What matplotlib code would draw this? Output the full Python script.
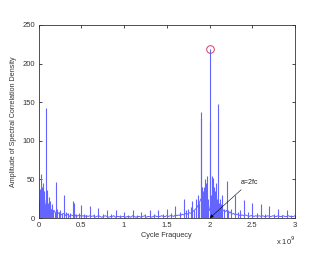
import numpy as np
import matplotlib
matplotlib.use("Agg")
import matplotlib.pyplot as plt

plt.rcParams['font.family'] = ['Liberation Sans', 'DejaVu Sans']

# Baseline noise (frequency in units of 1e9 Hz, step 0.02)
base_freq = np.round(np.arange(0, 3.0001, 0.02), 3)
base_amp = [10, 25, 20, 35, 15, 18, 14, 12, 8, 10, 6, 5, 7, 4, 5, 6,
            3, 5, 2, 4, 3, 5, 2, 3, 4, 2, 3, 2, 3, 2, 3,
            2, 3, 1, 2, 3, 2, 1, 2, 3, 2, 1, 2, 2, 3, 1, 2, 2, 1, 2, 2,
            1, 2, 2, 1, 3, 2, 1, 2, 2, 1, 2, 3, 1, 2, 2, 1, 2, 3, 2, 2,
            2, 3, 2, 2, 3, 2, 3, 3, 2, 4, 3, 4, 3, 5, 4, 6, 5, 7, 6, 8,
            10, 12, 15, 20, 25, 18, 22, 15, 20, 10, 8, 6, 12, 20, 18, 15, 12, 10, 8, 10,
            6, 8, 5, 6, 4, 5, 4, 3, 4, 3, 4, 3, 2, 3, 3, 2, 3, 2, 3, 2,
            3, 2, 2, 3, 2, 2, 3, 2, 2, 3, 2, 2, 3, 2, 2, 3, 2, 2, 2, 3]

# Spikes (frequency in units of 1e9 Hz, amplitude)
spike_freq = [0.005, 0.012, 0.02, 0.03, 0.038, 0.045, 0.052, 0.06, 0.068, 0.08, 0.091, 0.1,
              0.11, 0.12, 0.13, 0.14, 0.15, 0.16, 0.175, 0.19, 0.2, 0.21, 0.22, 0.24, 0.25,
              0.27, 0.3, 0.32, 0.35, 0.37, 0.4, 0.41, 0.44, 0.47, 0.5, 0.53, 0.55, 0.6, 0.65,
              0.7, 0.75, 0.8, 0.85, 0.9, 0.95, 1.0, 1.05, 1.1, 1.15, 1.2, 1.25, 1.3, 1.35,
              1.4, 1.45, 1.5, 1.55, 1.6, 1.65, 1.7, 1.72, 1.75, 1.78, 1.8, 1.82, 1.84, 1.86,
              1.87, 1.88, 1.895, 1.905, 1.915, 1.925, 1.935, 1.945, 1.955, 1.965, 1.975,
              1.985, 2.0, 2.01, 2.02, 2.03, 2.04, 2.05, 2.06, 2.07, 2.08, 2.09, 2.1, 2.11,
              2.12, 2.13, 2.15, 2.17, 2.2, 2.22, 2.25, 2.3, 2.33, 2.35, 2.4, 2.45, 2.5, 2.55,
              2.6, 2.65, 2.7, 2.75, 2.8, 2.85, 2.9, 2.95, 2.995]
spike_amp = [22, 10, 37, 57, 30, 40, 46, 25, 35, 18, 143, 36,
             20, 27, 15, 22, 12, 18, 10, 8, 47, 10, 12, 8, 10,
             6, 30, 8, 7, 6, 22, 20, 5, 6, 17, 5, 4, 15, 5,
             13, 5, 11, 5, 10, 4, 8, 4, 10, 4, 8, 5, 10, 5,
             10, 5, 12, 6, 15, 8, 24, 10, 12, 14, 22, 10, 25, 18,
             30, 20, 137, 130, 40, 35, 40, 50, 45, 30, 55,
             25, 219, 125, 30, 55, 52, 40, 35, 45, 30, 25, 148, 20,
             25, 18, 30, 12, 48, 10, 12, 30, 8, 10, 23, 8, 20, 6,
             18, 5, 15, 5, 12, 4, 10, 4, 6]

peak_freq = 2.0
peak_amp = 219
annot_text = "a=2fc"
xtick_vals = [0, 0.5, 1, 1.5, 2, 2.5, 3]
xtick_labels = ["0", "0.5", "1", "1.5", "2", "2.5", "3"]
ytick_vals = [0, 50, 100, 150, 200, 250]

scale = 1e9
fig = plt.figure(figsize=(3.32, 2.63), dpi=100)
ax = fig.add_axes([0.116, 0.171, 0.773, 0.734])

blue = '#6464ff'
ax.plot(np.array(base_freq) * scale, base_amp, color=blue, lw=0.7)
ax.vlines(np.array(spike_freq) * scale, 0, spike_amp, color=blue, lw=0.8)
ax.plot([peak_freq * scale], [peak_amp], 'o', mfc='none', mec='#d04060', ms=5.5, mew=0.7)

ax.annotate(annot_text, xy=(2.003 * scale, 0), xytext=(2.36 * scale, 46),
            fontsize=5, va='center', ha='left', color='#222222',
            arrowprops=dict(arrowstyle='-|>', color='black', lw=0.4,
                            mutation_scale=5, shrinkA=1, shrinkB=0))

ax.set_xlim(0, 3 * scale)
ax.set_ylim(0, 250)
ax.set_xticks(np.array(xtick_vals) * scale)
ax.set_xticklabels(xtick_labels)
ax.set_yticks(ytick_vals)
ax.tick_params(direction='in', top=True, right=True, labelsize=5.5, length=2,
               width=0.5, labelcolor='#333333')
ax.tick_params(axis='x', pad=3)
ax.tick_params(axis='y', pad=2.5)
for s in ax.spines.values():
    s.set_linewidth(0.6)
    s.set_color('#333333')
ax.text(1.0, -0.085, r"x 10$^9$", transform=ax.transAxes, ha='right', va='top',
        fontsize=5.5, color='#333333')
ax.set_xlabel("Cycle Fraquecy", fontsize=5.3, labelpad=2, color='#333333')
ax.set_ylabel("Amplitude of Spectral Correlation Density", fontsize=5.1, labelpad=4,
              color='#333333')

fig.savefig("out.png", dpi=100)
